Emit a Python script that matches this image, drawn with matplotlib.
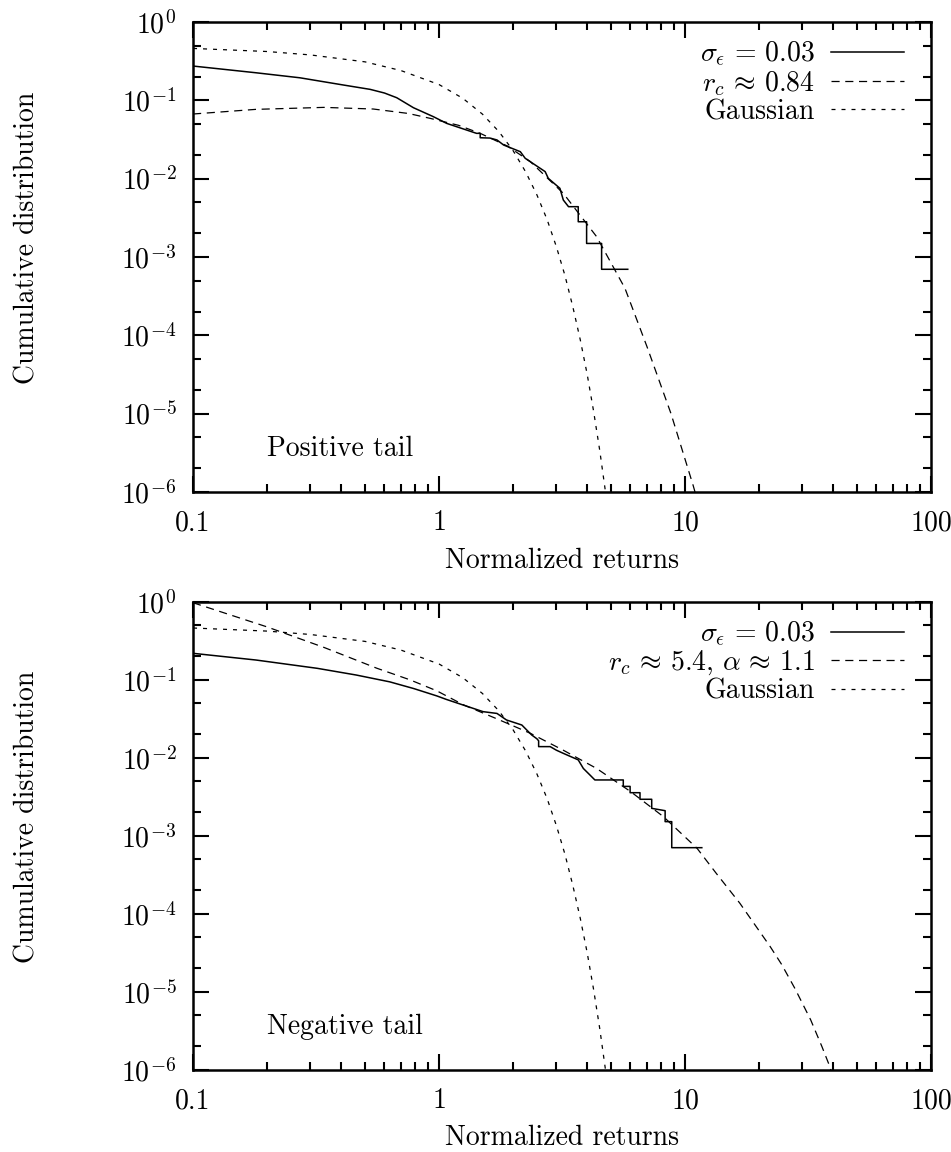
import matplotlib
matplotlib.use('Agg')
import matplotlib.pyplot as plt
from matplotlib.ticker import LogLocator, FixedLocator, FixedFormatter, NullFormatter

plt.rcParams['font.family'] = 'serif'
plt.rcParams['font.serif'] = ['cmr10']
plt.rcParams['mathtext.fontset'] = 'cm'
plt.rcParams['axes.formatter.use_mathtext'] = True

pos_x = [0.1, 0.18, 0.272, 0.408, 0.525, 0.60, 0.673, 0.787, 0.949, 1.074, 1.42, 1.47, 1.47, 1.61, 1.72,
         1.83, 2.14, 2.24, 2.70, 2.78, 3.10, 3.20, 3.36, 3.68, 3.68, 3.98, 3.98, 4.58, 4.58, 5.85]
pos_y = [0.274, 0.225, 0.194, 0.157, 0.138, 0.124, 0.108, 0.0805, 0.0618, 0.0508, 0.0379, 0.0379, 0.0333,
         0.0330, 0.0312, 0.0269, 0.0221, 0.0182, 0.0123, 0.0101, 0.00753, 0.00534, 0.00439, 0.00439,
         0.00282, 0.00282, 0.00149, 0.00149, 0.000697, 0.000697]

# fit, positive tail (r_c ~ 0.84)
pos_fit_x = [0.1, 0.18, 0.34, 0.54, 0.75, 0.92, 1.2, 1.47, 1.9, 2.35, 3.2, 4.37, 5.70, 7.0, 8.77, 10.8, 11.2]
pos_fit_y = [0.0669, 0.0767, 0.0813, 0.0775, 0.068, 0.0589, 0.048, 0.0379, 0.026, 0.0165, 0.0065,
             0.00182, 0.000398, 7.2e-5, 1.0e-5, 1.2e-6, 8e-7]

# empirical cumulative distribution, negative tail
neg_x = [0.1, 0.18, 0.32, 0.46, 0.63, 0.79, 0.98, 1.07, 1.51, 1.72, 1.88, 2.17, 2.38, 2.50, 2.54, 2.54,
         2.83, 3.0, 3.2, 3.68, 3.86, 4.11, 4.30, 5.61, 5.61, 5.98, 5.98, 6.56, 6.56, 7.32, 7.32, 8.30, 8.30,
         8.83, 8.83, 11.7]
neg_y = [0.218, 0.179, 0.14, 0.115, 0.094, 0.077, 0.062, 0.056, 0.039, 0.037, 0.0305, 0.0263, 0.0196, 0.0175,
         0.0165, 0.0139, 0.0139, 0.0125, 0.0114, 0.0094, 0.0073, 0.0060, 0.0052, 0.0052, 0.0043, 0.0043,
         0.00357, 0.00357, 0.00294, 0.00294, 0.00225, 0.0021, 0.00152, 0.00152, 0.000705, 0.000705]

# fit, negative tail (r_c ~ 5.4, alpha ~ 1.1)
neg_fit_x = [0.1, 0.2, 0.34, 0.56, 0.76, 0.98, 1.26, 1.7, 2.35, 3.2, 4.37, 6.0, 8.17, 11.2, 13.4, 16.7,
             22.2, 24.7, 28.0, 32.4, 36.0, 38.8, 40.5]
neg_fit_y = [0.97, 0.475, 0.26, 0.14, 0.100, 0.072, 0.0475, 0.032, 0.0206, 0.0125, 0.0073, 0.0037, 0.00176,
             6.9e-4, 3.3e-4, 1.37e-4, 3.8e-5, 2.25e-5, 1.1e-5, 4.4e-6, 2.0e-6, 1.1e-6, 7e-7]

# Gaussian tail, same in both panels
gauss_x = [0.1, 0.2, 0.3, 0.5, 0.7, 1.0, 1.25, 1.5, 1.75, 2.0, 2.25, 2.5, 2.75, 3.0, 3.25, 3.5, 3.75,
           4.0, 4.25, 4.5, 4.75, 4.85]
gauss_y = [0.46, 0.42, 0.38, 0.31, 0.24, 0.159, 0.106, 0.0668, 0.040, 0.0228, 0.0122, 0.0062, 0.003,
           0.00135, 5.8e-4, 2.3e-4, 8.8e-5, 3.2e-5, 1.07e-5, 3.4e-6, 1.0e-6, 6e-7]

x_ticks = [0.1, 1, 10, 100]
x_tick_labels = ['0.1', '1', '10', '100']
y_ticks = [1e-6, 1e-5, 1e-4, 1e-3, 1e-2, 1e-1, 1]
y_tick_labels = [r'$10^{-6}$', r'$10^{-5}$', r'$10^{-4}$', r'$10^{-3}$', r'$10^{-2}$', r'$10^{-1}$', r'$10^{0}$']

FS = 20

fig = plt.figure(figsize=(9.51, 11.52), dpi=100)
ax1 = fig.add_axes([0.203, 0.5729, 0.776, 0.408])
ax2 = fig.add_axes([0.203, 0.0712, 0.776, 0.4065])


def draw_panel(ax, emp_x, emp_y, fit_x, fit_y, fit_label, tail_text, xlab_y):
    ax.plot(emp_x, emp_y, color='black', lw=1.1, label=r'$\sigma_\epsilon \,=\, 0.03$')
    ax.plot(fit_x, fit_y, color='black', lw=0.9, dashes=(6.5, 4.5), label=fit_label)
    ax.plot(gauss_x, gauss_y, color='black', lw=0.9, dashes=(3.2, 4.8), label='Gaussian')
    ax.set_xscale('log')
    ax.set_yscale('log')
    ax.set_xlim(0.1, 100)
    ax.set_ylim(1e-6, 1)

    ax.xaxis.set_major_locator(FixedLocator(x_ticks))
    ax.xaxis.set_major_formatter(FixedFormatter(x_tick_labels))
    ax.xaxis.set_minor_locator(LogLocator(base=10, subs=(2, 3, 4, 5, 6, 7, 8, 9), numticks=20))
    ax.xaxis.set_minor_formatter(NullFormatter())
    ax.yaxis.set_major_locator(FixedLocator(y_ticks))
    ax.yaxis.set_major_formatter(FixedFormatter(y_tick_labels))
    ax.yaxis.set_minor_locator(LogLocator(base=10, subs=(2, 5), numticks=20))
    ax.yaxis.set_minor_formatter(NullFormatter())

    ax.tick_params(which='both', direction='in', top=True, right=True, labelsize=FS, width=1.5)
    ax.tick_params(which='major', length=11.5)
    ax.tick_params(which='minor', length=5.5)
    ax.tick_params(axis='x', which='major', pad=13)
    ax.tick_params(axis='y', which='major', pad=12)
    for sp in ax.spines.values():
        sp.set_linewidth(1.8)

    ax.set_xlabel('Normalized returns', fontsize=FS)
    ax.set_ylabel('Cumulative distribution', fontsize=FS)
    ax.xaxis.set_label_coords(0.5, xlab_y)
    ax.yaxis.set_label_coords(-0.207, 0.54)

    ax.text(0.2, 2.9e-6, tail_text, fontsize=FS, ha='left', va='baseline')
    ax.legend(loc='upper right', bbox_to_anchor=(0.978, 0.985), borderaxespad=0,
              frameon=False, markerfirst=False, fontsize=FS,
              handlelength=2.6, handletextpad=0.6, labelspacing=0.03)


draw_panel(ax1, pos_x, pos_y, pos_fit_x, pos_fit_y, r'$r_c \,\approx\, 0.84$', 'Positive tail', -0.118)
draw_panel(ax2, neg_x, neg_y, neg_fit_x, neg_fit_y, r'$r_c \,\approx\, 5.4,\, \alpha \,\approx\, 1.1$',
           'Negative tail', -0.116)

fig.savefig('out.png', dpi=100)
